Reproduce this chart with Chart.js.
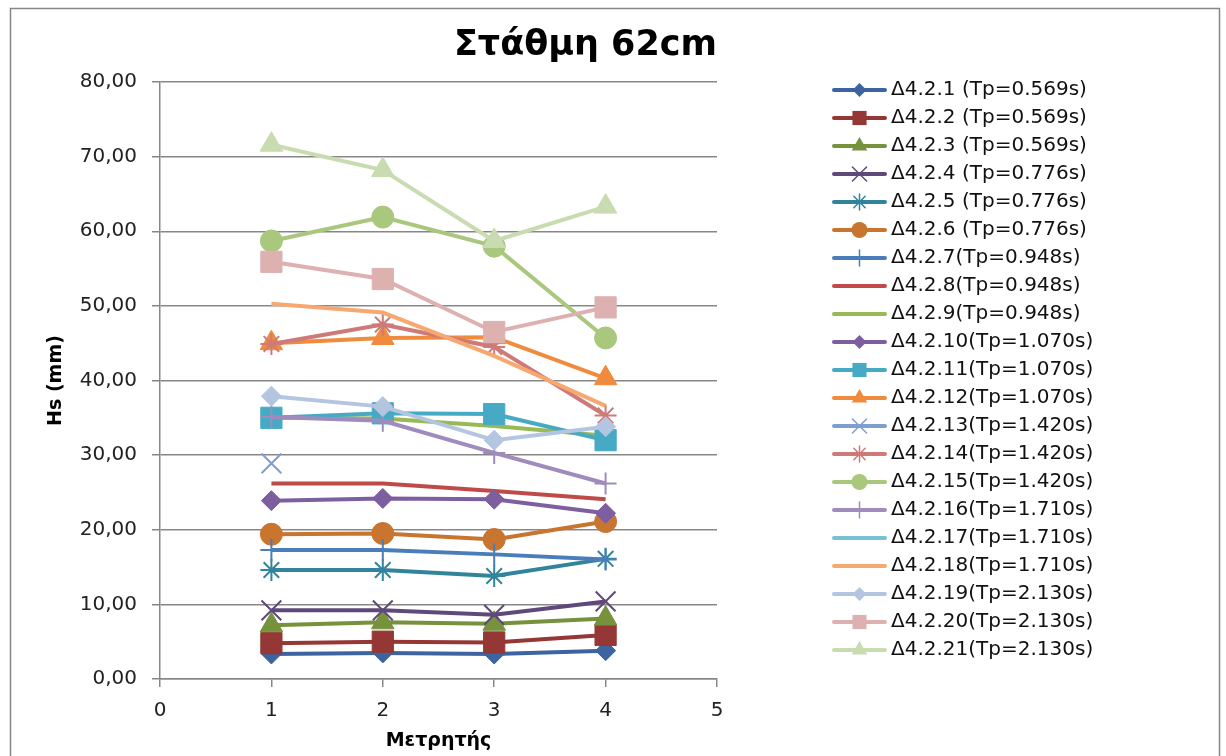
<!DOCTYPE html>
<html>
<head>
<meta charset="utf-8">
<script src="https://cdn.jsdelivr.net/npm/chart.js@4.4.1/dist/chart.umd.min.js"></script>
<style>
  html, body { margin: 0; padding: 0; background: #fff; }
  canvas { display: block; }
</style>
</head>
<body>
<canvas id="chart" width="1226" height="756"></canvas>
<script>
// gauge numbers on the x axis
const gauges = [1, 2, 3, 4];

const seriesNames = [
  'Δ4.2.1 (Tp=0.569s)', 'Δ4.2.2 (Tp=0.569s)', 'Δ4.2.3 (Tp=0.569s)',
  'Δ4.2.4 (Tp=0.776s)', 'Δ4.2.5 (Tp=0.776s)', 'Δ4.2.6 (Tp=0.776s)',
  'Δ4.2.7(Tp=0.948s)', 'Δ4.2.8(Tp=0.948s)', 'Δ4.2.9(Tp=0.948s)',
  'Δ4.2.10(Tp=1.070s)', 'Δ4.2.11(Tp=1.070s)', 'Δ4.2.12(Tp=1.070s)',
  'Δ4.2.13(Tp=1.420s)', 'Δ4.2.14(Tp=1.420s)', 'Δ4.2.15(Tp=1.420s)',
  'Δ4.2.16(Tp=1.710s)', 'Δ4.2.17(Tp=1.710s)', 'Δ4.2.18(Tp=1.710s)',
  'Δ4.2.19(Tp=2.130s)', 'Δ4.2.20(Tp=2.130s)', 'Δ4.2.21(Tp=2.130s)'
];

// Hs (mm) per gauge
const s1  = [3.35, 3.5, 3.35, 3.8];
const s2  = [4.8, 5.0, 4.9, 5.9];
const s3  = [7.2, 7.6, 7.4, 8.1];
const s4  = [9.2, 9.2, 8.6, 10.4];
const s5  = [14.6, 14.6, 13.8, 16.1];
const s6  = [19.4, 19.5, 18.7, 21.1];
const s7  = [17.3, 17.3, 16.7, 16.0];
const s8  = [26.2, 26.2, 25.2, 24.1];
const s9  = [35.0, 34.9, 33.9, 32.6];
const s10 = [23.9, 24.2, 24.1, 22.2];
const s11 = [35.0, 35.6, 35.5, 32.0];
const s12 = [45.0, 45.7, 45.8, 40.3];
const s13 = [28.9, null, null, null];
const s14 = [44.9, 47.5, 44.5, 35.3];
const s15 = [58.7, 61.9, 58.0, 45.7];
const s16 = [35.1, 34.6, 30.3, 26.2];
const s17 = [null, null, null, null];
const s18 = [50.3, 49.1, 43.3, 36.6];
const s19 = [37.9, 36.5, 32.0, 33.8];
const s20 = [55.9, 53.6, 46.5, 49.8];
const s21 = [71.6, 68.2, 58.7, 63.3];
const series = [s1, s2, s3, s4, s5, s6, s7, s8, s9, s10, s11, s12, s13, s14, s15, s16, s17, s18, s19, s20, s21];

const colors = [
  '#3B64A0', '#953734', '#76923C', '#5F497A', '#31849B', '#C87530',
  '#4A7EBB', '#BE4B48', '#98B954', '#7D5FA0', '#46AAC5', '#F08A3C',
  '#7F9ED0', '#CE7A78', '#A9C77D', '#A08CBC', '#78C0D4', '#F7A871',
  '#B4C5E2', '#DDB1B0', '#C9DBB0'
];

// marker shape, radius in plot, radius in legend
const markers = [
  ['rectRot', 10, 7], ['rect', 15, 10], ['triangle', 13, 9], ['crossRot', 14, 10], ['star', 11, 8], ['circle', 11, 8], ['cross', 11, 8],
  [null, 0, 0], [null, 0, 0],
  ['rectRot', 10, 7], ['rect', 15, 10], ['triangle', 13, 9], ['crossRot', 14, 10], ['star', 11, 8], ['circle', 11, 8], ['cross', 11, 8],
  [null, 0, 0], [null, 0, 0],
  ['rectRot', 10, 7], ['rect', 15, 10], ['triangle', 13, 9]
];

const FAMILY = '"DejaVu Sans", sans-serif';
const GRID = '#878787';
const PLOT_RIGHT = 717;
const LEGEND_PAD = 8;
const ICON_BOX = 156;

function drawMarker(ctx, style, x, y, r, color) {
  ctx.fillStyle = color;
  ctx.strokeStyle = color;
  ctx.lineWidth = 1.5;
  ctx.beginPath();
  if (style === 'circle') {
    ctx.arc(x, y, r, 0, Math.PI * 2);
    ctx.fill();
  } else if (style === 'rect') {
    const s = r * Math.SQRT1_2;
    ctx.rect(x - s, y - s, 2 * s, 2 * s);
    ctx.fill();
  } else if (style === 'rectRot') {
    ctx.moveTo(x - r, y); ctx.lineTo(x, y - r); ctx.lineTo(x + r, y); ctx.lineTo(x, y + r);
    ctx.closePath(); ctx.fill();
  } else if (style === 'triangle') {
    ctx.moveTo(x, y - r); ctx.lineTo(x + r * 0.866, y + r * 0.5); ctx.lineTo(x - r * 0.866, y + r * 0.5);
    ctx.closePath(); ctx.fill();
  } else {
    if (style === 'cross' || style === 'star') {
      ctx.moveTo(x, y - r); ctx.lineTo(x, y + r);
      ctx.moveTo(x - r, y); ctx.lineTo(x + r, y);
    }
    if (style === 'crossRot' || style === 'star') {
      const d = r * Math.SQRT1_2;
      ctx.moveTo(x - d, y - d); ctx.lineTo(x + d, y + d);
      ctx.moveTo(x + d, y - d); ctx.lineTo(x - d, y + d);
    }
    ctx.stroke();
  }
}

// legend icon: line with marker, sitting in the right part of a wide image
const legendIcons = colors.map((c, i) => {
  const cv = document.createElement('canvas');
  cv.width = 168; cv.height = 26;
  const ctx = cv.getContext('2d');
  ctx.strokeStyle = c;
  ctx.lineWidth = 4;
  ctx.lineCap = 'round';
  ctx.beginPath();
  ctx.moveTo(115, 13); ctx.lineTo(166, 13);
  ctx.stroke();
  if (markers[i][0]) drawMarker(ctx, markers[i][0], 140.5, 13, markers[i][2], c);
  return cv;
});

// reserve right padding so the plot ends where the reference's does
const mctx = document.createElement('canvas').getContext('2d');
mctx.font = '20px ' + FAMILY;
const maxText = Math.max(...seriesNames.map(n => mctx.measureText(n).width));
const legendWidth = LEGEND_PAD + ICON_BOX + 10 + maxText + 10;
const padRight = Math.max(0, 1226 - PLOT_RIGHT - legendWidth);

const datasets = series.map((vals, i) => ({
  label: seriesNames[i],
  data: gauges.map((g, j) => ({ x: g, y: vals[j] })),
  borderColor: colors[i],
  backgroundColor: colors[i],
  borderWidth: 4,
  tension: 0,
  pointStyle: markers[i][0] || 'circle',
  pointRadius: markers[i][1],
  pointHoverRadius: markers[i][1],
  pointBackgroundColor: colors[i],
  pointBorderColor: colors[i],
  pointBorderWidth: ['cross', 'crossRot', 'star'].includes(markers[i][0]) ? 2 : 1,
  order: series.length - i
}));

const framePlugin = {
  id: 'frame',
  beforeDraw(chart) {
    const ctx = chart.ctx;
    ctx.save();
    ctx.fillStyle = '#fff';
    ctx.fillRect(0, 0, chart.width, chart.height);
    ctx.strokeStyle = '#868686';
    ctx.lineWidth = 1.5;
    ctx.strokeRect(10.5, 8.5, 1209, 780);
    ctx.restore();
  }
};

new Chart(document.getElementById('chart'), {
  type: 'line',
  data: { datasets },
  plugins: [framePlugin],
  options: {
    responsive: false,
    animation: false,
    layout: { padding: { left: 0, top: 0, right: padRight, bottom: 0 } },
    plugins: {
      title: {
        display: true,
        text: 'Στάθμη 62cm',
        align: 'end',
        fullSize: false,
        color: '#000',
        font: { family: FAMILY, size: 35, weight: 'bold' },
        padding: { top: 25, bottom: 15 }
      },
      legend: {
        position: 'right',
        align: 'start',
        maxWidth: 700,
        title: { display: true, text: '', font: { size: 50, lineHeight: 1.44 }, padding: 0 },
        labels: {
          usePointStyle: true,
          pointStyleWidth: ICON_BOX,
          padding: LEGEND_PAD,
          color: '#111',
          font: { family: FAMILY, size: 20 },
          generateLabels: chart => chart.data.datasets.map((ds, i) => ({
            text: ds.label,
            datasetIndex: i,
            pointStyle: legendIcons[i],
            fillStyle: ds.borderColor,
            strokeStyle: ds.borderColor,
            lineWidth: 0,
            hidden: false,
            fontColor: '#111'
          }))
        }
      },
      tooltip: { enabled: false }
    },
    scales: {
      x: {
        type: 'linear',
        min: 0,
        max: 5,
        ticks: { stepSize: 1, padding: 12, color: '#222', font: { family: FAMILY, size: 20 } },
        grid: { drawOnChartArea: false, drawTicks: true, tickLength: 8, color: GRID, lineWidth: 1.5 },
        border: { color: GRID, width: 1.5 },
        title: { display: true, text: 'Μετρητής', color: '#000', font: { family: FAMILY, size: 19, weight: 'bold' }, padding: { top: 0, bottom: 4 } },
        afterFit: s => { s.height = 77; }
      },
      y: {
        min: 0,
        max: 80,
        ticks: {
          stepSize: 10,
          padding: 15,
          color: '#222',
          font: { family: FAMILY, size: 20 },
          callback: v => v.toFixed(2).replace('.', ',')
        },
        grid: { color: GRID, lineWidth: 1.5, tickLength: 8 },
        border: { color: GRID, width: 1.5 },
        title: { display: true, text: 'Hs (mm)', color: '#000', font: { family: FAMILY, size: 19, weight: 'bold' }, padding: { top: 45, bottom: 0 } },
        afterFit: s => { s.width = 160; }
      }
    }
  }
});
</script>
</body>
</html>
